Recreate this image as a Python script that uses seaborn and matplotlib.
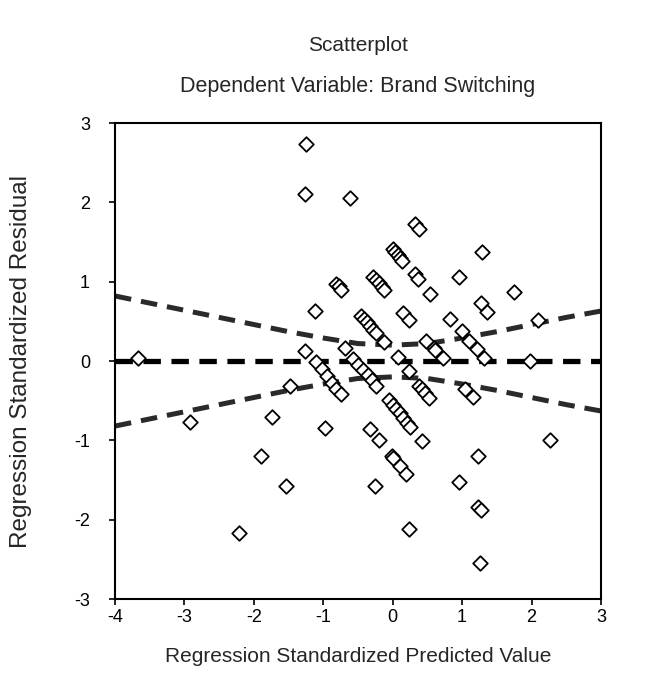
import matplotlib
matplotlib.use("Agg")
import matplotlib.pyplot as plt
import numpy as np
import pandas as pd
import seaborn as sns

sns.set_theme(style="white")
plt.rcParams["font.family"] = ["Liberation Sans", "DejaVu Sans"]
plt.rcParams["axes.unicode_minus"] = False

# ── data ──────────────────────────────────────────────────────────────────────
pred_std = [
    -3.67, -2.92, -2.21, -1.89, -1.74, -1.53, -1.48, -1.25, -1.27, -1.12,
    -1.27, -0.97, -0.61, -0.69, -1.11, -1.02, -0.95, -0.88, -0.82, -0.75,
    -0.81, -0.78, -0.74, -0.57, -0.50, -0.43, -0.36, -0.30, -0.24, -0.28,
    -0.24, -0.20, -0.16, -0.12, -0.45, -0.41, -0.37, -0.33, -0.28, -0.24,
    -0.12, 0.07, -0.33, -0.20, -0.25, -0.01, 0.01, 0.11, 0.19, 0.24,
    -0.06, 0.00, 0.05, 0.10, 0.15, 0.20, 0.25, 0.23, 0.38, 0.42,
    0.46, 0.53, 0.42, 0.01, 0.04, 0.07, 0.10, 0.14, 0.32, 0.38,
    0.32, 0.37, 0.54, 0.15, 0.23, 0.48, 0.59, 0.61, 0.72, 0.83,
    0.95, 1.00, 1.10, 1.21, 1.31, 1.04, 1.15, 0.95, 1.23, 1.23,
    1.27, 1.26, 1.28, 1.27, 1.36, 1.75, 2.10, 1.98, 2.26,
]
resid_std = [
    0.04, -0.77, -2.17, -1.20, -0.70, -1.57, -0.31, 2.74, 2.11, 0.63,
    0.13, -0.85, 2.06, 0.17, -0.01, -0.10, -0.19, -0.28, -0.35, -0.42,
    0.97, 0.94, 0.90, 0.03, -0.05, -0.11, -0.18, -0.24, -0.31, 1.06,
    1.02, 0.98, 0.93, 0.89, 0.57, 0.53, 0.49, 0.44, 0.39, 0.35,
    0.24, 0.05, -0.86, -0.99, -1.58, -1.20, -1.22, -1.32, -1.43, -2.12,
    -0.49, -0.55, -0.61, -0.66, -0.72, -0.78, -0.83, -0.13, -0.31, -0.35,
    -0.40, -0.47, -1.01, 1.41, 1.38, 1.34, 1.30, 1.26, 1.73, 1.67,
    1.10, 1.04, 0.85, 0.61, 0.52, 0.25, 0.16, 0.14, 0.04, 0.53,
    1.06, 0.38, 0.25, 0.15, 0.04, -0.35, -0.45, -1.53, -1.20, -1.84,
    -1.88, -2.54, 1.38, 0.73, 0.62, 0.87, 0.52, 0.00, -0.99,
]

# reference lines (zero line and the curved band), read at half-unit steps
band_x = [-4.0, -3.5, -3.0, -2.5, -2.0, -1.5, -1.0, -0.5, 0.0, 0.5, 1.0, 1.5, 2.0, 2.5, 3.0]
band_upper = [0.82, 0.73, 0.64, 0.55, 0.46, 0.37, 0.29, 0.22, 0.20, 0.22, 0.29, 0.37, 0.46, 0.55, 0.63]
band_lower = [-v for v in band_upper]
zero_x = [-4.0, 3.0]
zero_y = [0.0, 0.0]

x_ticks = [-4, -3, -2, -1, 0, 1, 2, 3]
y_ticks = [-3, -2, -1, 0, 1, 2, 3]

df = pd.DataFrame({"pred": pred_std, "resid": resid_std})

fig = plt.figure(figsize=(6.62, 6.95), dpi=100)
ax = fig.add_axes([0.1737, 0.1381, 0.7341, 0.6849])

sns.lineplot(x=band_x, y=band_upper, ax=ax, color="#2a2a2a", lw=3.6,
             estimator=None, sort=False, zorder=1)
sns.lineplot(x=band_x, y=band_lower, ax=ax, color="#2a2a2a", lw=3.6,
             estimator=None, sort=False, zorder=1)
sns.lineplot(x=zero_x, y=zero_y, ax=ax, color="black", lw=3.8,
             estimator=None, sort=False, zorder=1)
for ln in ax.get_lines():
    ln.set_dashes((3.3, 2.0))
    ln.set_solid_capstyle("butt")

sns.scatterplot(data=df, x="pred", y="resid", ax=ax, marker="D", s=55,
                facecolor="white", edgecolor="black", linewidth=1.3, zorder=3)

ax.set_xlim(-4, 3)
ax.set_ylim(-3, 3)
ax.set_xticks(x_ticks)
ax.set_yticks(y_ticks)
ax.tick_params(axis="both", direction="out", length=4, width=1.2,
               labelsize=13, pad=3, bottom=True, left=True, colors="black")
ax.tick_params(axis="y", pad=14)
for sp in ax.spines.values():
    sp.set_visible(True)
    sp.set_color("black")
    sp.set_linewidth(1.5)

ax.set_xlabel("Regression Standardized Predicted Value", fontsize=15)
ax.set_ylabel("Regression Standardized Residual", fontsize=17.5)
ax.xaxis.set_label_coords(0.5, -0.101)
ax.yaxis.set_label_coords(-0.171, 0.5)

fig.text(0.5408, 0.935, "Scatterplot", ha="center", va="center", fontsize=15)
fig.text(0.5408, 0.875, "Dependent Variable: Brand Switching",
         ha="center", va="center", fontsize=15.5)

fig.savefig("out.png", dpi=100)
